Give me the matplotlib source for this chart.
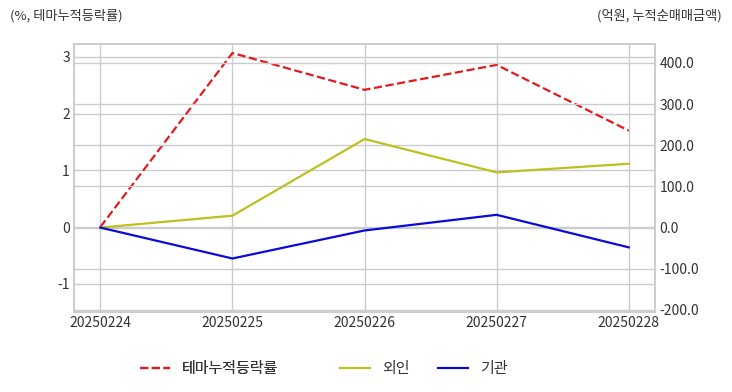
import matplotlib
matplotlib.use("Agg")
import matplotlib.pyplot as plt

plt.rcParams['font.family'] = ['Noto Sans CJK KR', 'DejaVu Sans']

# data
dates = ["20250224", "20250225", "20250226", "20250227", "20250228"]
theme_rate = [0.0, 3.07, 2.42, 2.86, 1.70]      # %, left axis
foreign = [0.0, 29.0, 215.0, 134.0, 155.0]       # 억원, right axis
institution = [0.0, -75.0, -7.0, 31.0, -48.0]    # 억원, right axis

grid_c = "#cccccc"
text_c = "#333333"

fig = plt.figure(figsize=(7.32, 3.92), dpi=100)
ax = fig.add_axes([0.101, 0.204, 0.794, 0.684])
ax2 = ax.twinx()

x = list(range(len(dates)))
l1, = ax.plot(x, theme_rate, color="#e31a1c", linestyle="--", linewidth=1.6, label="테마누적등락률")
l2, = ax2.plot(x, foreign, color="#bfbf1f", linewidth=1.6, label="외인")
l3, = ax2.plot(x, institution, color="#0a0adc", linewidth=1.6, label="기관")

ax.set_xlim(-0.2, 4.2)
ax.set_ylim(-1.5, 3.23)
ax2.set_ylim(-205, 446)
ax.set_yticks([-1, 0, 1, 2, 3])
ax.set_yticklabels(["-1", "0", "1", "2", "3"])
ax2.set_yticks([-200, -100, 0, 100, 200, 300, 400])
ax2.set_yticklabels([f"{v:.1f}" for v in [-200, -100, 0, 100, 200, 300, 400]])
ax.set_xticks(x)
ax.set_xticklabels(dates)

for a in (ax, ax2):
    a.grid(True, color=grid_c, linewidth=1)
    a.tick_params(length=0, labelsize=10, colors=text_c, pad=3)
    for s in a.spines.values():
        s.set_color(grid_c)
        s.set_linewidth(1.2)
ax2.grid(axis="x", visible=False)
ax.set_axisbelow(True)
ax2.set_axisbelow(True)

fig.text(0.014, 0.96, "(%, 테마누적등락률)", fontsize=9.5, color=text_c, va="center", ha="left")
fig.text(0.986, 0.96, "(억원, 누적순매매금액)", fontsize=9.5, color=text_c, va="center", ha="right")

leg1 = fig.legend(handles=[l1], loc="center left", bbox_to_anchor=(0.191, 0.058),
                  frameon=False, fontsize=10.8, handlelength=2.0, borderpad=0,
                  borderaxespad=0, labelcolor=text_c)
fig.add_artist(leg1)
fig.legend(handles=[l2, l3], loc="center left", bbox_to_anchor=(0.4645, 0.058), ncol=2,
           frameon=False, fontsize=10.8, handlelength=2.0, borderpad=0,
           borderaxespad=0, columnspacing=1.9, labelcolor=text_c)

fig.savefig("out.png", dpi=100)
